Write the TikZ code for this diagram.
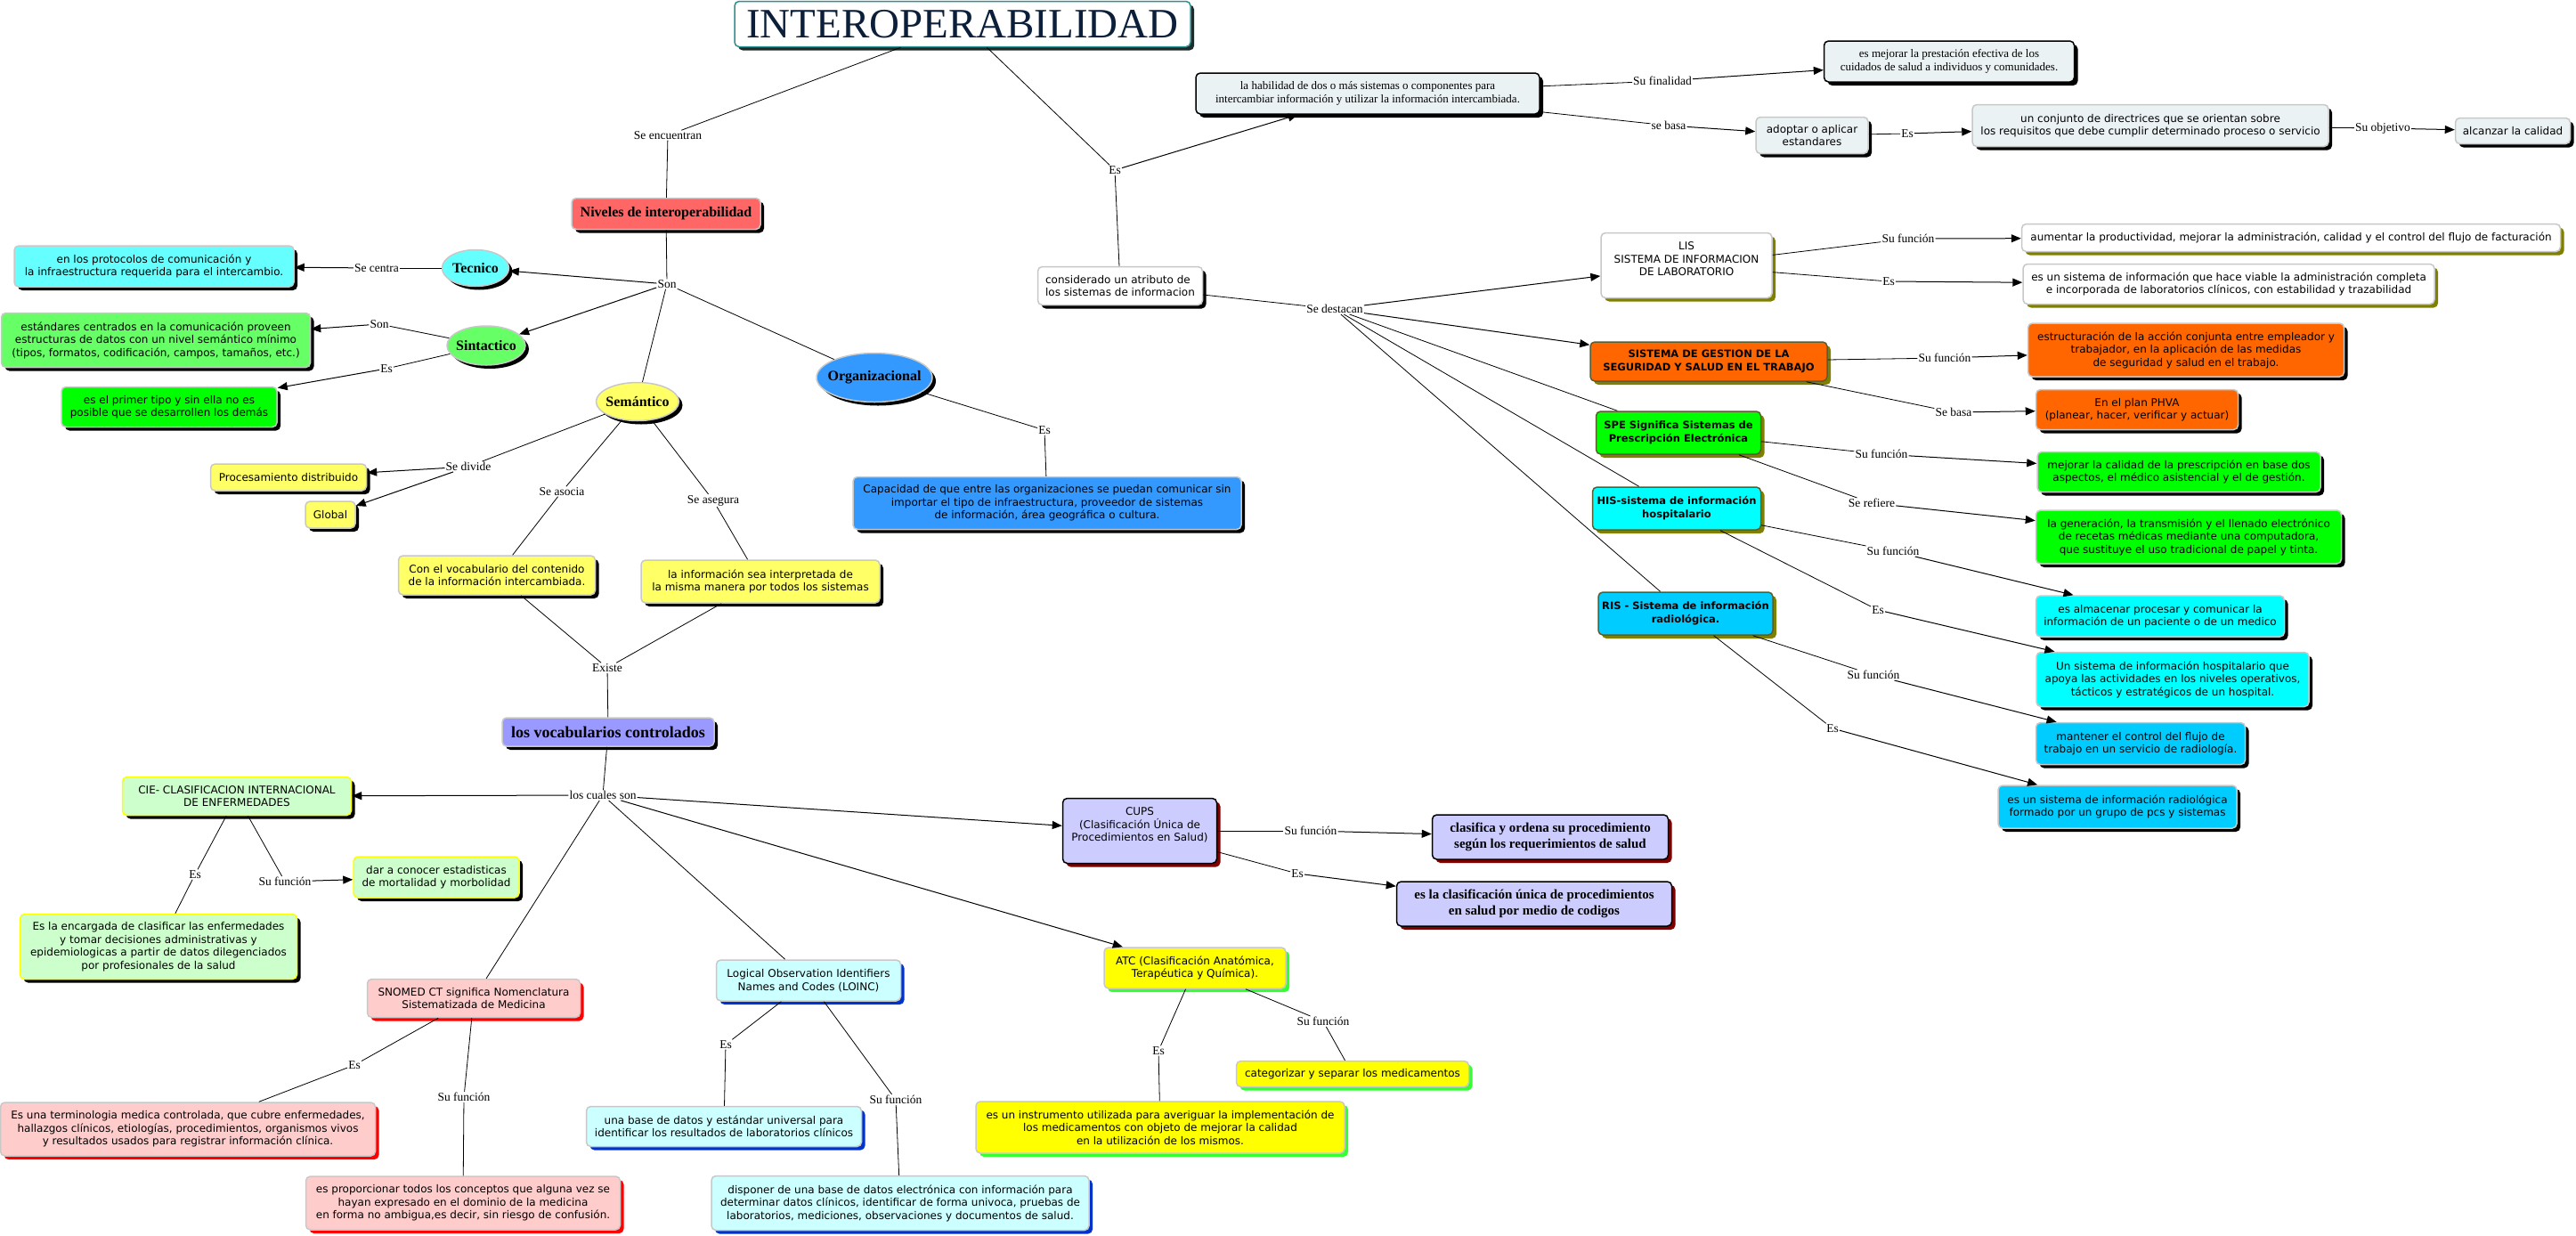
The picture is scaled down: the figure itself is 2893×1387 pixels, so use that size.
\documentclass[tikz,border=0pt]{standalone}
\usepackage{fontspec}
\setmainfont{Liberation Serif}
\newfontfamily\boxfont{DejaVu Sans}
\usepackage{tikz}
\usetikzlibrary{arrows.meta,shapes.geometric,shadows}

\definecolor{cyanA}{HTML}{66FFFF}
\definecolor{greenA}{HTML}{66FF66}
\definecolor{greenB}{HTML}{00FF00}
\definecolor{yellowA}{HTML}{FFFF66}
\definecolor{yellowB}{HTML}{FFFF00}
\definecolor{blueA}{HTML}{3399FF}
\definecolor{redA}{HTML}{FF6666}
\definecolor{violetA}{HTML}{9999FF}
\definecolor{paleB}{HTML}{EBF2F4}
\definecolor{orangeA}{HTML}{FF6600}
\definecolor{cyanB}{HTML}{00FFFF}
\definecolor{skyA}{HTML}{00CCFF}
\definecolor{mintA}{HTML}{CCFFCC}
\definecolor{pinkA}{HTML}{FFCCCC}
\definecolor{aquaA}{HTML}{CCFFFF}
\definecolor{lavA}{HTML}{CCCCFF}
\definecolor{greyB}{HTML}{C8C8C8}
\definecolor{tealB}{HTML}{2F8F8F}
\definecolor{navyT}{HTML}{0B1F3A}
\definecolor{oliveS}{HTML}{808000}
\definecolor{oliveD}{HTML}{5C5C2E}
\definecolor{redS}{HTML}{FF0000}
\definecolor{blueS}{HTML}{0033CC}
\definecolor{greenS}{HTML}{33FF33}
\definecolor{darkredS}{HTML}{800000}
\definecolor{darkS}{HTML}{1E2B2B}

\begin{document}
\begin{tikzpicture}[x=1pt, y=-1pt,
  cbase/.style={rounded corners=5pt, align=center, inner sep=2pt, line width=1.5pt},
  box/.style n args={3}{cbase, fill=#1, draw=#2, drop shadow={shadow xshift=4pt, shadow yshift=-4pt, fill=#3, opacity=1}},
  oval/.style={ellipse, fill=#1, draw=greyB, line width=1.5pt, inner xsep=-8pt, inner ysep=0pt, headtxt, drop shadow={shadow xshift=4pt, shadow yshift=-4pt, fill=black, opacity=1}},
  boxtxt/.style={font=\boxfont\fontsize{12}{14.5}\selectfont},
  boldtxt/.style={font=\boxfont\bfseries\fontsize{11.5}{15}\selectfont},
  headtxt/.style={font=\bfseries\fontsize{16}{18}\selectfont},
  headsm/.style={font=\bfseries\fontsize{15}{18}\selectfont},
  sertxt/.style={font=\fontsize{13}{15.5}\selectfont},
  lbl/.style={font=\fontsize{13.5}{15}\selectfont, inner sep=1pt},
  link/.style={line width=0.8pt},
  arr/.style={line width=1pt, -{Triangle[length=11pt, width=9pt]}},
]
\fill[white] (0,0) rectangle (2893,1387);
\useasboundingbox (0,0) rectangle (2893,1387);

% ---------------- title ----------------
\node[box={white}{tealB}{darkS}, font=\fontsize{47}{50}\selectfont, text=navyT, minimum width=512pt, minimum height=51pt] (title) at (1081,27) {INTEROPERABILIDAD};

% ---------------- niveles (left) ----------------
\node[box={redA}{greyB}{black}, headtxt, minimum width=212pt, minimum height=35pt] (niv) at (748,240) {Niveles de interoperabilidad};
\node[oval=cyanA, minimum width=75pt, minimum height=41pt] (tec) at (534,301) {Tecnico};
\node[oval=greenA, minimum width=88pt, minimum height=44pt] (sin) at (546,388) {Sintactico};
\node[oval=yellowA, minimum width=93pt, minimum height=43pt] (sem) at (716,451) {Semántico};
\node[oval=blueA, minimum width=130pt, minimum height=55pt] (org) at (982,424) {Organizacional};

\node[box={cyanA}{greyB}{black}, boxtxt, minimum width=314pt, minimum height=46pt] (prot) at (173,299) {en los protocolos de comunicación y\\la infraestructura requerida para el intercambio.};
\node[box={greenA}{greyB}{black}, boxtxt, minimum width=347pt, minimum height=61pt] (estd) at (175,382) {estándares centrados en la comunicación proveen\\estructuras de datos con un nivel semántico mínimo\\(tipos, formatos, codificación, campos, tamaños, etc.)};
\node[box={greenB}{greyB}{black}, boxtxt, minimum width=242pt, minimum height=45pt] (prim) at (190,457) {es el primer tipo y sin ella no es\\posible que se desarrollen los demás};
\node[box={yellowA}{greyB}{black}, boxtxt, minimum width=175pt, minimum height=30pt] (proc) at (324,536) {Procesamiento distribuido};
\node[box={yellowA}{greyB}{black}, boxtxt, minimum width=56pt, minimum height=30pt] (glob) at (371,578) {Global};
\node[box={yellowA}{greyB}{black}, boxtxt, minimum width=221pt, minimum height=44pt] (convoc) at (558,646) {Con el vocabulario del contenido\\de la información intercambiada.};
\node[box={yellowA}{greyB}{black}, boxtxt, minimum width=268pt, minimum height=48pt] (inter) at (854,653) {la información sea interpretada de\\la misma manera por todos los sistemas};
\node[box={blueA}{greyB}{black}, boxtxt, minimum width=436pt, minimum height=59pt] (capac) at (1176,565) {Capacidad de que entre las organizaciones se puedan comunicar sin\\importar el tipo de infraestructura, proveedor de sistemas\\de información, área geográfica o cultura.};
\node[box={violetA}{greyB}{black}, font=\bfseries\fontsize{18}{20}\selectfont, minimum width=238pt, minimum height=32pt] (vocab) at (683,822) {los vocabularios controlados};

% ---------------- vocabularios (bottom) ----------------
\node[box={mintA}{yellowB}{black}, boxtxt, minimum width=257pt, minimum height=43pt] (cie) at (266,894) {CIE- CLASIFICACION INTERNACIONAL\\DE ENFERMEDADES};
\node[box={mintA}{yellowB}{black}, boxtxt, minimum width=186pt, minimum height=46pt] (dar) at (490,985) {dar a conocer estadisticas\\de mortalidad y morbolidad};
\node[box={mintA}{yellowB}{black}, boxtxt, minimum width=311pt, minimum height=73pt] (encar) at (178,1063) {Es la encargada de clasificar las enfermedades\\y tomar decisiones administrativas y\\epidemiologicas a partir de datos dilegenciados\\por profesionales de la salud};
\node[box={pinkA}{greyB}{redS}, boxtxt, minimum width=239pt, minimum height=43pt] (snomed) at (532,1121) {SNOMED CT significa Nomenclatura\\Sistematizada de Medicina};
\node[box={pinkA}{greyB}{redS}, boxtxt, minimum width=421pt, minimum height=60pt] (termi) at (211,1268) {Es una terminologia medica controlada, que cubre enfermedades,\\hallazgos clínicos, etiologías, procedimientos, organismos vivos\\y resultados usados para registrar información clínica.};
\node[box={pinkA}{greyB}{redS}, boxtxt, minimum width=353pt, minimum height=60pt] (propor) at (520,1351) {es proporcionar todos los conceptos que alguna vez se\\hayan expresado en el dominio de la medicina\\en forma no ambigua,es decir, sin riesgo de confusión.};
\node[box={aquaA}{greyB}{blueS}, boxtxt, minimum width=207pt, minimum height=46pt] (loinc) at (908,1101) {Logical Observation Identifiers\\Names and Codes (LOINC)};
\node[box={aquaA}{greyB}{blueS}, boxtxt, minimum width=309pt, minimum height=45pt] (based) at (813,1265) {una base de datos y estándar universal para\\identificar los resultados de laboratorios clínicos};
\node[box={aquaA}{greyB}{blueS}, boxtxt, minimum width=424pt, minimum height=61pt] (dispo) at (1011,1351) {disponer de una base de datos electrónica con información para\\determinar datos clínicos, identificar de forma univoca, pruebas de\\laboratorios, mediciones, observaciones y documentos de salud.};
\node[box={lavA}{black}{darkredS}, boxtxt, minimum width=173pt, minimum height=73pt] (cups) at (1280,933) {CUPS\\(Clasificación Única de\\Procedimientos en Salud)\\~};
\node[box={yellowB}{greyB}{greenS}, boxtxt, minimum width=204pt, minimum height=46pt] (atc) at (1342,1087) {ATC (Clasificación Anatómica,\\Terapéutica y Química).};
\node[box={yellowB}{greyB}{greenS}, boxtxt, minimum width=414pt, minimum height=58pt] (instr) at (1303,1266) {es un instrumento utilizada para averiguar la implementación de\\los medicamentos con objeto de mejorar la calidad\\en la utilización de los mismos.};
\node[box={yellowB}{greyB}{greenS}, boxtxt, minimum width=261pt, minimum height=29pt] (categ) at (1519,1206) {categorizar y separar los medicamentos};
\node[box={lavA}{black}{darkredS}, headsm, minimum width=265pt, minimum height=50pt] (clasif) at (1741,940) {clasifica y ordena su procedimiento\\según los requerimientos de salud};
\node[box={lavA}{black}{darkredS}, headsm, minimum width=309pt, minimum height=50pt] (clasu) at (1723,1015) {es la clasificación única de procedimientos\\en salud por medio de codigos};

% ---------------- definicion (top right) ----------------
\node[box={white}{greyB}{black}, boxtxt, align=left, minimum width=185pt, minimum height=43pt] (consid) at (1258,321) {considerado un atributo de\\los sistemas de informacion};
\node[box={paleB}{black}{black}, sertxt, minimum width=386pt, minimum height=46pt] (habil) at (1536,105) {la habilidad de dos o más sistemas o componentes para\\intercambiar información y utilizar la información intercambiada.};
\node[box={paleB}{black}{black}, sertxt, minimum width=281pt, minimum height=46pt] (final) at (2189,69) {es mejorar la prestación efectiva de los\\cuidados de salud a individuos y comunidades.};
\node[box={paleB}{greyB}{black}, boxtxt, minimum width=126pt, minimum height=41pt] (adopt) at (2035,152) {adoptar o aplicar\\estandares};
\node[box={paleB}{greyB}{black}, boxtxt, minimum width=400pt, minimum height=47pt] (conj) at (2415,141) {un conjunto de directrices que se orientan sobre\\los requisitos que debe cumplir determinado proceso o servicio};
\node[box={paleB}{greyB}{black}, boxtxt, minimum width=129pt, minimum height=29pt] (alcan) at (2822,147) {alcanzar la calidad};

% ---------------- sistemas (right) ----------------
\node[box={white}{greyB}{oliveS}, boxtxt, minimum width=192pt, minimum height=73pt] (lis) at (1894,298) {LIS\\SISTEMA DE INFORMACION\\DE LABORATORIO\\~};
\node[box={white}{greyB}{oliveS}, boxtxt, minimum width=605pt, minimum height=31pt] (aum) at (2573,267) {aumentar la productividad, mejorar la administración, calidad y el control del flujo de facturación};
\node[box={white}{greyB}{oliveS}, boxtxt, minimum width=462pt, minimum height=45pt] (lises) at (2503,319) {es un sistema de información que hace viable la administración completa\\e incorporada de laboratorios clínicos, con estabilidad y trazabilidad};
\node[box={orangeA}{oliveD}{oliveS}, boldtxt, minimum width=266pt, minimum height=44pt] (sgsst) at (1919,406) {SISTEMA DE GESTION DE LA\\SEGURIDAD Y SALUD EN EL TRABAJO};
\node[box={orangeA}{greyB}{black}, boxtxt, minimum width=355pt, minimum height=60pt] (estr) at (2455,393) {estructuración de la acción conjunta entre empleador y\\trabajador, en la aplicación de las medidas\\de seguridad y salud en el trabajo.};
\node[box={orangeA}{greyB}{black}, boxtxt, minimum width=227pt, minimum height=45pt] (phva) at (2400,460) {En el plan PHVA\\(planear, hacer, verificar y actuar)};
\node[box={greenB}{oliveD}{oliveS}, boldtxt, minimum width=185pt, minimum height=48pt] (spe) at (1885,486) {SPE Significa Sistemas de\\Prescripción Electrónica};
\node[box={greenB}{greyB}{black}, boxtxt, minimum width=318pt, minimum height=45pt] (mejp) at (2447,530) {mejorar la calidad de la prescripción en base dos\\aspectos, el médico asistencial y el de gestión.};
\node[box={greenB}{greyB}{black}, boxtxt, minimum width=343pt, minimum height=60pt] (gener) at (2458,603) {la generación, la transmisión y el llenado electrónico\\de recetas médicas mediante una computadora,\\que sustituye el uso tradicional de papel y tinta.};
\node[box={cyanB}{oliveD}{oliveS}, boldtxt, minimum width=189pt, minimum height=48pt] (his) at (1883,571) {HIS-sistema de información\\hospitalario};
\node[box={cyanB}{greyB}{black}, boxtxt, minimum width=279pt, minimum height=46pt] (almac) at (2426,692) {es almacenar procesar y comunicar la\\información de un paciente o de un medico};
\node[box={cyanB}{greyB}{black}, boxtxt, minimum width=306pt, minimum height=61pt] (hosp) at (2440,763) {Un sistema de información hospitalario que\\apoya las actividades en los niveles operativos,\\tácticos y estratégicos de un hospital.};
\node[box={skyA}{oliveD}{oliveS}, boldtxt, minimum width=196pt, minimum height=48pt] (ris) at (1893,689) {RIS - Sistema de información\\radiológica.};
\node[box={skyA}{greyB}{black}, boxtxt, minimum width=235pt, minimum height=47pt] (mant) at (2404,835) {mantener el control del flujo de\\trabajo en un servicio de radiología.};
\node[box={skyA}{greyB}{black}, boxtxt, minimum width=268pt, minimum height=48pt] (radio) at (2378,906) {es un sistema de información radiológica\\formado por un grupo de pcs y sistemas};

% ---------------- link words ----------------
\node[lbl] (Lseenc) at (750,152) {Se encuentran};
\node[lbl] (Lestop) at (1252,191) {Es};
\node[lbl] (Lson) at (749,319) {Son};
\node[lbl] (Lsecentra) at (423,301) {Se centra};
\node[lbl] (Lsonsin) at (426,364) {Son};
\node[lbl] (Lessin) at (434,414) {Es};
\node[lbl] (Lsedivide) at (526,524) {Se divide};
\node[lbl] (Lseasocia) at (631,552) {Se asocia};
\node[lbl] (Lseasegura) at (801,562) {Se asegura};
\node[lbl] (Lexiste) at (682,750) {Existe};
\node[lbl] (Lesorg) at (1173,483) {Es};
\node[lbl] (Lcuales) at (677,893) {los cuales son};
\node[lbl] (Lescie) at (219,982) {Es};
\node[lbl] (Lsufcie) at (320,990) {Su función};
\node[lbl] (Lessno) at (398,1196) {Es};
\node[lbl] (Lsufsno) at (521,1232) {Su función};
\node[lbl] (Lesloinc) at (815,1173) {Es};
\node[lbl] (Lsufloinc) at (1006,1235) {Su función};
\node[lbl] (Lesatc) at (1301,1180) {Es};
\node[lbl] (Lsufatc) at (1486,1147) {Su función};
\node[lbl] (Lsufcups) at (1472,933) {Su función};
\node[lbl] (Lescups) at (1457,981) {Es};
\node[lbl] (Lsufin) at (1867,91) {Su finalidad};
\node[lbl] (Lsebasa) at (1874,141) {se basa};
\node[lbl] (Lesadopt) at (2142,150) {Es};
\node[lbl] (Lsuobj) at (2676,144) {Su objetivo};
\node[lbl] (Lsedest) at (1499,347) {Se destacan};
\node[lbl] (Lsuflis) at (2143,268) {Su función};
\node[lbl] (Leslis) at (2121,316) {Es};
\node[lbl] (Lsufsg) at (2184,402) {Su función};
\node[lbl] (Lsebasasg) at (2194,463) {Se basa};
\node[lbl] (Lsufspe) at (2113,510) {Su función};
\node[lbl] (Lserefiere) at (2102,565) {Se refiere};
\node[lbl] (Lsufhis) at (2126,619) {Su función};
\node[lbl] (Leshis) at (2109,685) {Es};
\node[lbl] (Lsufris) at (2104,758) {Su función};
\node[lbl] (Lesris) at (2058,818) {Es};

% ---------------- connectors ----------------
\foreach \a/\b in {title/Lseenc, Lseenc/niv, title/Lestop, Lestop/consid, niv/Lson, Lson/sem, Lson/org,
  tec/Lsecentra, sin/Lsonsin, sin/Lessin, sem/Lsedivide, sem/Lseasocia, Lseasocia/convoc, sem/Lseasegura,
  Lseasegura/inter, convoc/Lexiste, inter/Lexiste, Lexiste/vocab, org/Lesorg, Lesorg/capac, vocab/Lcuales,
  Lcuales/snomed, Lcuales/loinc, cie/Lescie, Lescie/encar, cie/Lsufcie, snomed/Lessno, Lessno/termi,
  snomed/Lsufsno, Lsufsno/propor, loinc/Lesloinc, Lesloinc/based, loinc/Lsufloinc, Lsufloinc/dispo,
  atc/Lesatc, Lesatc/instr, atc/Lsufatc, Lsufatc/categ, cups/Lsufcups, cups/Lescups, habil/Lsufin,
  habil/Lsebasa, adopt/Lesadopt, conj/Lsuobj, consid/Lsedest, Lsedest/spe, Lsedest/his, Lsedest/ris,
  lis/Lsuflis, lis/Leslis, sgsst/Lsufsg, sgsst/Lsebasasg, spe/Lsufspe, spe/Lserefiere, his/Lsufhis,
  his/Leshis, ris/Lsufris, ris/Lesris}
  \draw[link] (\a) -- (\b);

\foreach \a/\b in {Lestop/habil, Lson/tec, Lson/sin, Lsecentra/prot, Lsonsin/estd, Lessin/prim,
  Lsedivide/proc, Lsedivide/glob, Lcuales/cie, Lcuales/cups, Lcuales/atc, Lsufcie/dar, Lsufcups/clasif,
  Lescups/clasu, Lsufin/final, Lsebasa/adopt, Lesadopt/conj, Lsuobj/alcan, Lsedest/lis, Lsedest/sgsst,
  Lsuflis/aum, Leslis/lises, Lsufsg/estr, Lsebasasg/phva, Lsufspe/mejp, Lserefiere/gener, Lsufhis/almac,
  Leshis/hosp, Lsufris/mant, Lesris/radio}
  \draw[arr] (\a) -- (\b);
\end{tikzpicture}
\end{document}
